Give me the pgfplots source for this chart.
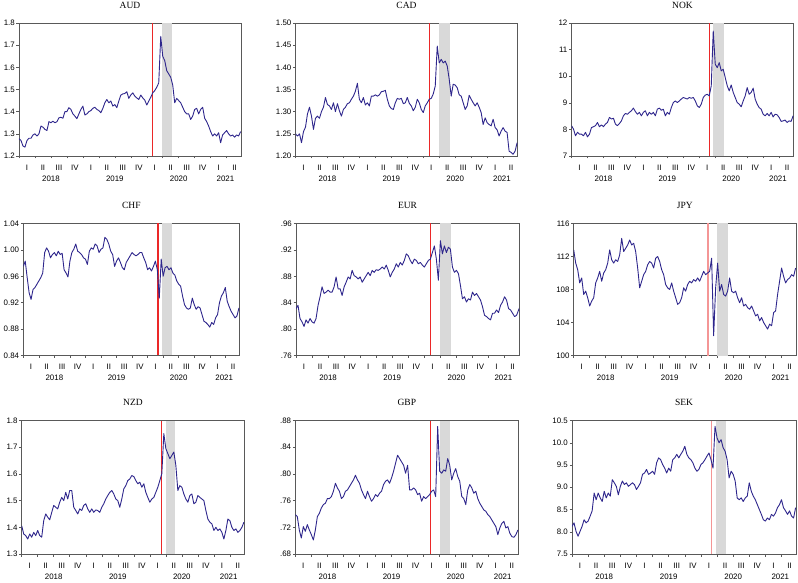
\documentclass[border=0pt]{standalone}
\usepackage{fontspec}
\setmainfont{Liberation Serif}
\newfontfamily\arial{Liberation Sans}
\usepackage{pgfplots}
\pgfplotsset{compat=1.18}
\definecolor{serie}{RGB}{46,38,140}
\definecolor{band}{RGB}{217,217,217}
\definecolor{brk}{RGB}{235,40,40}
\definecolor{brkl}{RGB}{244,150,150}
\newcommand{\tickfont}{\arial\fontsize{7.9}{9}\selectfont}
\newcommand{\titlefont}{\fontsize{9.5}{11}\selectfont}
\pgfplotsset{
  fx/.style={
    scale only axis, height=133pt, xmin=0, xmax=13.9,
    axis line style={black!65, line width=0.6pt},
    tick align=outside, tick pos=left,
    major tick length=2.5pt,
    tick style={black!65, line width=0.5pt},
    xtick={0,...,13},
    xticklabels={I,II,III,IV,I,II,III,IV,I,II,III,IV,I,II},
    xticklabel style={font=\tickfont, inner sep=0pt, anchor=north, xshift=8pt, yshift=-6pt},
    yticklabel style={font=\tickfont, inner sep=0pt, anchor=east, xshift=-1.5pt},
    title style={font=\titlefont, inner sep=0pt, anchor=south, at={(0.5,1)}, yshift=8.5pt},
    extra description/.code={
      \node[font=\tickfont, inner sep=0pt, anchor=north, yshift=-19.6pt] at (axis description cs:0.1439,0) {2018};
      \node[font=\tickfont, inner sep=0pt, anchor=north, yshift=-19.6pt] at (axis description cs:0.4317,0) {2019};
      \node[font=\tickfont, inner sep=0pt, anchor=north, yshift=-19.6pt] at (axis description cs:0.7194,0) {2020};
      \node[font=\tickfont, inner sep=0pt, anchor=north, yshift=-19.6pt] at (axis description cs:0.930,0) {2021};
    },
  },
  ser/.style={serie, line width=0.9pt, line join=round},
  table/tab/.style={header=false, row sep=\\, x expr=\coordindex/8, y index=0},
}
\begin{document}
\begin{tikzpicture}
\useasboundingbox (0,0) rectangle (798pt,582pt);
% ---------------- AUD
\begin{axis}[fx, at={(19pt,559pt)}, anchor=north west, width=222pt, title={AUD},
  ymin=1.2, ymax=1.8, ytick={1.2,1.3,1.4,1.5,1.6,1.7,1.8}, yticklabels={1.2,1.3,1.4,1.5,1.6,1.7,1.8}]
\addplot[draw=none, fill=band] coordinates {(8.94,1.2) (8.94,1.8) (9.58,1.8) (9.58,1.2)} -- cycle;
\addplot[brk, line width=1.4pt] coordinates {(8.35,1.2) (8.35,1.8)};
\addplot[ser] table[tab] {1.278\\1.27\\1.245\\1.24\\1.27\\1.28\\1.28\\1.295\\1.30\\1.29\\
1.30\\1.335\\1.33\\1.32\\1.315\\1.355\\1.35\\1.357\\1.35\\1.355\\
1.372\\1.375\\1.37\\1.40\\1.40\\1.418\\1.41\\1.39\\1.38\\1.368\\
1.39\\1.41\\1.425\\1.385\\1.39\\1.40\\1.405\\1.415\\1.42\\1.41\\
1.405\\1.395\\1.415\\1.44\\1.455\\1.44\\1.448\\1.425\\1.432\\1.418\\
1.448\\1.475\\1.48\\1.482\\1.49\\1.46\\1.475\\1.485\\1.47\\1.462\\
1.455\\1.475\\1.462\\1.452\\1.43\\1.448\\1.465\\1.485\\1.495\\1.51\\
1.53\\1.74\\1.65\\1.63\\1.585\\1.57\\1.555\\1.52\\1.44\\1.46\\
1.45\\1.44\\1.42\\1.40\\1.39\\1.39\\1.365\\1.38\\1.41\\1.415\\
1.39\\1.41\\1.42\\1.37\\1.355\\1.335\\1.31\\1.29\\1.30\\1.29\\
1.305\\1.26\\1.295\\1.305\\1.315\\1.30\\1.29\\1.295\\1.285\\1.295\\
1.29\\1.31\\};
\end{axis}
% ---------------- CAD
\begin{axis}[fx, at={(295.5pt,559pt)}, anchor=north west, width=222pt, title={CAD},
  ymin=1.2, ymax=1.5, ytick={1.2,1.25,1.3,1.35,1.4,1.45,1.5}, yticklabels={1.20,1.25,1.30,1.35,1.40,1.45,1.50}]
\addplot[draw=none, fill=band] coordinates {(9.0,1.2) (9.0,1.5) (9.65,1.5) (9.65,1.2)} -- cycle;
\addplot[brk, line width=1.4pt] coordinates {(8.4,1.2) (8.4,1.5)};
\addplot[ser] table[tab] {1.25\\1.245\\1.25\\1.23\\1.255\\1.265\\1.295\\1.31\\1.29\\1.26\\
1.285\\1.29\\1.285\\1.30\\1.31\\1.332\\1.316\\1.313\\1.305\\1.32\\
1.30\\1.318\\1.302\\1.29\\1.305\\1.31\\1.318\\1.32\\1.328\\1.335\\
1.346\\1.364\\1.328\\1.32\\1.332\\1.315\\1.32\\1.313\\1.335\\1.335\\
1.338\\1.335\\1.338\\1.345\\1.346\\1.348\\1.328\\1.313\\1.307\\1.305\\
1.32\\1.33\\1.328\\1.33\\1.318\\1.32\\1.332\\1.319\\1.313\\1.302\\
1.31\\1.328\\1.32\\1.305\\1.298\\1.313\\1.32\\1.328\\1.33\\1.34\\
1.358\\1.448\\1.41\\1.418\\1.41\\1.414\\1.403\\1.373\\1.335\\1.362\\
1.36\\1.354\\1.338\\1.335\\1.32\\1.305\\1.313\\1.337\\1.328\\1.32\\
1.313\\1.32\\1.31\\1.298\\1.271\\1.286\\1.275\\1.271\\1.268\\1.283\\
1.264\\1.259\\1.245\\1.256\\1.264\\1.256\\1.253\\1.211\\1.208\\1.204\\
1.211\\1.23\\};
\end{axis}
% ---------------- NOK
\begin{axis}[fx, at={(571.5pt,559pt)}, anchor=north west, width=222pt, title={NOK},
  ymin=7, ymax=12, ytick={7,8,9,10,11,12}, yticklabels={7,8,9,10,11,12}]
\addplot[draw=none, fill=band] coordinates {(8.87,7) (8.87,12) (9.53,12) (9.53,7)} -- cycle;
\addplot[brk, line width=1.4pt] coordinates {(8.65,7) (8.65,12)};
\addplot[ser] table[tab] {8.14\\8.01\\7.76\\7.89\\7.82\\7.82\\7.76\\7.89\\7.72\\7.82\\
8.07\\8.1\\8.14\\8.26\\8.1\\8.17\\8.1\\8.2\\8.26\\8.45\\
8.39\\8.42\\8.2\\8.14\\8.22\\8.32\\8.51\\8.6\\8.57\\8.64\\
8.7\\8.8\\8.67\\8.57\\8.64\\8.51\\8.64\\8.7\\8.51\\8.64\\
8.57\\8.64\\8.51\\8.76\\8.8\\8.72\\8.76\\8.51\\8.64\\8.57\\
8.82\\9.01\\9.07\\9.01\\9.07\\9.14\\9.2\\9.17\\9.14\\9.2\\
9.17\\9.2\\9.07\\8.89\\8.82\\8.95\\9.2\\9.29\\9.32\\9.26\\
9.64\\11.7\\10.45\\10.32\\10.51\\10.2\\10.26\\9.95\\9.64\\9.45\\
9.67\\9.39\\9.2\\9.01\\8.95\\8.85\\9.07\\9.26\\9.57\\9.32\\
9.39\\9.55\\9.14\\8.95\\8.82\\8.76\\8.57\\8.51\\8.6\\8.51\\
8.64\\8.47\\8.57\\8.55\\8.45\\8.3\\8.32\\8.35\\8.26\\8.32\\
8.3\\8.51\\};
\end{axis}
% ---------------- CHF
\begin{axis}[fx, at={(23.3pt,358.5pt)}, anchor=north west, width=216pt, height=132pt, title={CHF},
  ymin=0.84, ymax=1.04, ytick={0.84,0.88,0.92,0.96,1.0,1.04}, yticklabels={0.84,0.88,0.92,0.96,1.00,1.04},
  xticklabel style={xshift=-0.25pt}]
\addplot[draw=none, fill=band] coordinates {(8.94,0.84) (8.94,1.04) (9.6,1.04) (9.6,0.84)} -- cycle;
\addplot[brk, line width=1.4pt] coordinates {(8.68,0.84) (8.68,1.04)};
\addplot[ser] table[tab] {0.975\\0.983\\0.958\\0.935\\0.925\\0.94\\0.943\\0.948\\0.953\\0.958\\
0.965\\0.996\\1.003\\0.998\\0.988\\0.993\\0.996\\0.991\\0.998\\0.993\\
0.995\\0.97\\0.965\\0.959\\0.983\\0.996\\1.001\\1.009\\0.998\\0.996\\
0.993\\0.988\\0.986\\0.978\\0.998\\1.003\\1.001\\1.009\\1.006\\0.996\\
1.001\\1.003\\1.019\\1.016\\1.009\\0.998\\0.993\\0.975\\0.983\\0.988\\
0.981\\0.973\\0.97\\0.981\\0.986\\0.991\\0.996\\0.993\\0.991\\0.993\\
0.996\\0.996\\0.988\\0.981\\0.97\\0.973\\0.968\\0.975\\0.983\\0.97\\
0.927\\0.986\\0.96\\0.973\\0.975\\0.97\\0.973\\0.965\\0.962\\0.953\\
0.948\\0.945\\0.93\\0.917\\0.912\\0.91\\0.912\\0.927\\0.917\\0.91\\
0.914\\0.912\\0.902\\0.892\\0.89\\0.887\\0.883\\0.89\\0.887\\0.897\\
0.902\\0.92\\0.93\\0.935\\0.943\\0.922\\0.914\\0.907\\0.902\\0.897\\
0.9\\0.912\\};
\end{axis}
% ---------------- EUR
\begin{axis}[fx, at={(296pt,358.5pt)}, anchor=north west, width=223pt, height=132pt, title={EUR},
  ymin=0.76, ymax=0.96, ytick={0.76,0.8,0.84,0.88,0.92,0.96}, yticklabels={.76,.80,.84,.88,.92,.96}]
\addplot[draw=none, fill=band] coordinates {(8.98,0.76) (8.98,0.96) (9.65,0.96) (9.65,0.76)} -- cycle;
\addplot[brk, line width=1.4pt] coordinates {(8.38,0.76) (8.38,0.96)};
\addplot[ser] table[tab] {0.831\\0.836\\0.816\\0.811\\0.804\\0.814\\0.809\\0.816\\0.811\\0.809\\
0.816\\0.836\\0.849\\0.864\\0.854\\0.856\\0.859\\0.856\\0.856\\0.864\\
0.879\\0.861\\0.861\\0.851\\0.864\\0.871\\0.879\\0.876\\0.889\\0.881\\
0.879\\0.876\\0.879\\0.871\\0.876\\0.881\\0.886\\0.881\\0.889\\0.886\\
0.89\\0.889\\0.891\\0.894\\0.891\\0.897\\0.889\\0.879\\0.886\\0.891\\
0.899\\0.894\\0.901\\0.897\\0.904\\0.914\\0.911\\0.904\\0.899\\0.906\\
0.904\\0.899\\0.901\\0.897\\0.894\\0.899\\0.904\\0.906\\0.916\\0.926\\
0.906\\0.874\\0.934\\0.914\\0.926\\0.916\\0.924\\0.921\\0.894\\0.886\\
0.889\\0.884\\0.866\\0.846\\0.849\\0.841\\0.846\\0.844\\0.856\\0.851\\
0.854\\0.849\\0.844\\0.834\\0.821\\0.819\\0.816\\0.814\\0.824\\0.824\\
0.829\\0.825\\0.836\\0.841\\0.849\\0.844\\0.831\\0.829\\0.824\\0.819\\
0.821\\0.829\\0.836\\};
\end{axis}
% ---------------- JPY
\begin{axis}[fx, at={(573.7pt,358.5pt)}, anchor=north west, width=222.3pt, height=132pt, title={JPY},
  ymin=100, ymax=116, ytick={100,104,108,112,116}, yticklabels={100,104,108,112,116}]
\addplot[draw=none, fill=band] coordinates {(8.98,100) (8.98,116) (9.65,116) (9.65,100)} -- cycle;
\addplot[brkl, line width=1.6pt] coordinates {(8.4,100) (8.4,116)};
\addplot[ser] table[tab] {112.8\\111.2\\110.4\\108.8\\109.4\\107.4\\107.8\\107.0\\106.0\\106.6\\
107.0\\108.8\\109.4\\110.2\\109.0\\110.0\\110.4\\111.2\\112.8\\111.6\\
111.2\\111.6\\111.4\\112.2\\114.2\\112.6\\113.0\\113.4\\114.0\\113.4\\
113.6\\112.6\\110.6\\108.2\\109.0\\109.8\\110.2\\111.0\\111.4\\111.2\\
110.6\\111.8\\112.0\\111.4\\110.4\\109.8\\108.6\\108.2\\108.0\\108.8\\
107.8\\107.0\\106.2\\106.4\\107.0\\108.2\\107.8\\108.6\\109.0\\108.8\\
109.2\\109.0\\109.4\\109.0\\109.6\\110.2\\109.8\\110.0\\110.2\\111.8\\
102.4\\108.2\\111.2\\107.8\\108.6\\107.4\\107.2\\107.8\\109.4\\107.8\\
107.6\\107.8\\107.0\\106.4\\107.0\\106.0\\106.2\\105.8\\105.6\\106.0\\
105.4\\104.8\\105.0\\104.2\\104.6\\104.0\\103.6\\103.2\\103.8\\103.6\\
105.2\\105.4\\107.4\\109.0\\110.6\\109.6\\108.8\\109.2\\109.4\\109.8\\
109.6\\110.6\\};
\end{axis}
% ---------------- NZD
\begin{axis}[fx, at={(21.7pt,161.5pt)}, anchor=north west, width=222.6pt, height=133.5pt, title={NZD},
  ymin=1.3, ymax=1.8, ytick={1.3,1.4,1.5,1.6,1.7,1.8}, yticklabels={1.3,1.4,1.5,1.6,1.7,1.8}]
\addplot[draw=none, fill=band] coordinates {(8.98,1.3) (8.98,1.8) (9.6,1.8) (9.6,1.3)} -- cycle;
\addplot[brk, line width=1.4pt] coordinates {(8.72,1.3) (8.72,1.8)};
\addplot[ser] table[tab] {1.406\\1.375\\1.369\\1.356\\1.375\\1.363\\1.381\\1.369\\1.388\\1.369\\
1.363\\1.425\\1.45\\1.438\\1.428\\1.456\\1.482\\1.475\\1.469\\1.494\\
1.512\\1.5\\1.531\\1.506\\1.538\\1.538\\1.475\\1.463\\1.45\\1.469\\
1.463\\1.482\\1.488\\1.469\\1.456\\1.469\\1.456\\1.465\\1.463\\1.456\\
1.475\\1.488\\1.506\\1.519\\1.531\\1.538\\1.525\\1.506\\1.5\\1.475\\
1.506\\1.544\\1.556\\1.575\\1.581\\1.594\\1.59\\1.575\\1.563\\1.569\\
1.55\\1.563\\1.531\\1.512\\1.494\\1.506\\1.512\\1.531\\1.55\\1.575\\
1.601\\1.751\\1.695\\1.676\\1.657\\1.669\\1.682\\1.632\\1.538\\1.556\\
1.55\\1.525\\1.506\\1.494\\1.519\\1.525\\1.488\\1.494\\1.519\\1.512\\
1.506\\1.5\\1.463\\1.431\\1.419\\1.413\\1.388\\1.4\\1.388\\1.394\\
1.381\\1.356\\1.388\\1.431\\1.425\\1.4\\1.388\\1.394\\1.381\\1.388\\
1.4\\1.419\\};
\end{axis}
% ---------------- GBP
\begin{axis}[fx, at={(295.3pt,161.5pt)}, anchor=north west, width=223pt, height=133.5pt, title={GBP},
  ymin=0.68, ymax=0.88, ytick={0.68,0.72,0.76,0.8,0.84,0.88}, yticklabels={.68,.72,.76,.80,.84,.88}]
\addplot[draw=none, fill=band] coordinates {(9.0,0.68) (9.0,0.88) (9.63,0.88) (9.63,0.68)} -- cycle;
\addplot[brk, line width=1.4pt] coordinates {(8.43,0.68) (8.43,0.88)};
\addplot[ser] table[tab] {0.739\\0.736\\0.716\\0.704\\0.721\\0.714\\0.724\\0.716\\0.709\\0.701\\
0.716\\0.736\\0.741\\0.749\\0.754\\0.756\\0.763\\0.763\\0.766\\0.774\\
0.786\\0.779\\0.774\\0.763\\0.766\\0.774\\0.776\\0.781\\0.786\\0.791\\
0.798\\0.791\\0.786\\0.776\\0.769\\0.763\\0.774\\0.766\\0.759\\0.763\\
0.769\\0.766\\0.771\\0.774\\0.784\\0.789\\0.791\\0.786\\0.794\\0.804\\
0.816\\0.828\\0.823\\0.818\\0.813\\0.801\\0.813\\0.776\\0.776\\0.779\\
0.776\\0.769\\0.771\\0.759\\0.766\\0.763\\0.766\\0.769\\0.774\\0.776\\
0.766\\0.871\\0.804\\0.801\\0.806\\0.804\\0.823\\0.813\\0.791\\0.801\\
0.808\\0.796\\0.789\\0.766\\0.763\\0.754\\0.776\\0.784\\0.779\\0.771\\
0.774\\0.763\\0.756\\0.751\\0.746\\0.744\\0.739\\0.736\\0.731\\0.726\\
0.721\\0.709\\0.719\\0.726\\0.729\\0.719\\0.721\\0.711\\0.706\\0.705\\
0.709\\0.716\\};
\end{axis}
% ---------------- SEK
\begin{axis}[fx, at={(572pt,161.5pt)}, anchor=north west, width=224pt, height=133.5pt, title={SEK},
  ymin=7.5, ymax=10.5, ytick={7.5,8,8.5,9,9.5,10,10.5}, yticklabels={7.5,8.0,8.5,9.0,9.5,10.0,10.5}]
\addplot[draw=none, fill=band] coordinates {(8.92,7.5) (8.92,10.5) (9.58,10.5) (9.58,7.5)} -- cycle;
\addplot[brkl, line width=1.6pt] coordinates {(8.66,7.5) (8.66,10.5)};
\addplot[ser] table[tab] {8.12\\8.2\\8.01\\7.9\\8.01\\8.12\\8.27\\8.2\\8.24\\8.35\\
8.47\\8.87\\8.72\\8.87\\8.76\\8.68\\8.91\\8.76\\8.87\\8.8\\
9.17\\9.1\\9.02\\8.83\\9.02\\9.14\\9.06\\9.1\\9.02\\9.06\\
9.1\\9.06\\8.95\\9.02\\9.1\\9.29\\9.32\\9.4\\9.29\\9.32\\
9.36\\9.29\\9.55\\9.66\\9.62\\9.51\\9.43\\9.32\\9.43\\9.36\\
9.62\\9.66\\9.74\\9.66\\9.74\\9.81\\9.92\\9.74\\9.66\\9.62\\
9.55\\9.43\\9.36\\9.4\\9.51\\9.55\\9.62\\9.7\\9.77\\9.62\\
9.43\\10.37\\10.11\\10.0\\10.07\\9.89\\9.81\\9.62\\9.21\\9.36\\
9.29\\9.14\\8.76\\8.72\\8.76\\8.68\\8.76\\8.8\\9.1\\8.91\\
8.8\\8.72\\8.61\\8.5\\8.39\\8.27\\8.24\\8.31\\8.27\\8.39\\
8.35\\8.42\\8.54\\8.61\\8.72\\8.54\\8.47\\8.39\\8.47\\8.35\\
8.31\\8.54\\};
\end{axis}
\end{tikzpicture}
\end{document}
